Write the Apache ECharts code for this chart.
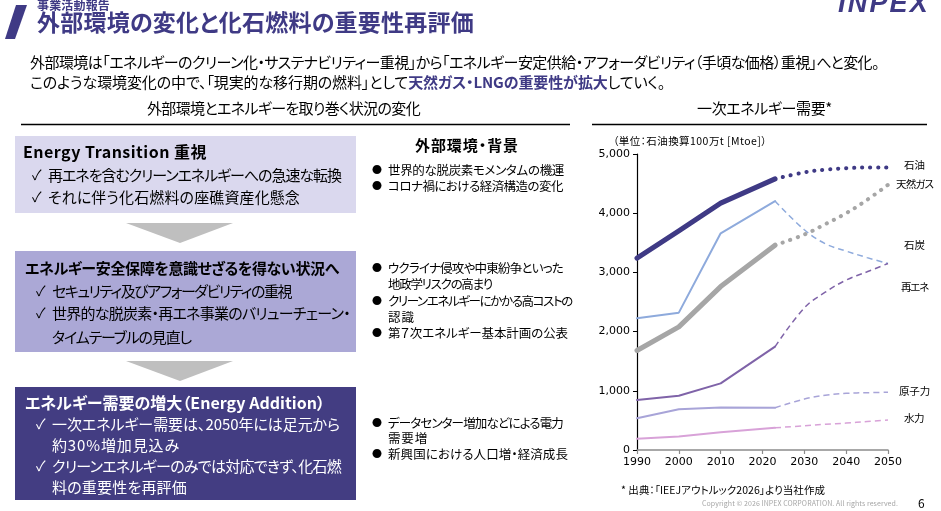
<!DOCTYPE html>
<html><head><meta charset="utf-8">
<script src="https://cdn.jsdelivr.net/npm/echarts@6/dist/echarts.min.js"></script>
<style>
html,body{margin:0;padding:0;background:#fff;}
body{width:941px;height:511px;position:relative;overflow:hidden;font-family:"Noto Sans CJK JP","Noto Sans",sans-serif;color:#000;}
#chart{position:absolute;left:0;top:0;width:941px;height:511px;}
.t{position:absolute;white-space:nowrap;font-feature-settings:"palt";}
.blk{position:absolute;}
</style></head><body>
<div id="chart"></div>
<svg class="blk" style="left:0;top:0" width="941" height="511">
  <polygon points="16,5 27,5 15,39 5,39" fill="#3f3a85"/>
  <line x1="21" y1="124.5" x2="570" y2="124.5" stroke="#000" stroke-width="1.5"/>
  <line x1="592" y1="124.5" x2="927" y2="124.5" stroke="#000" stroke-width="1.5"/>
  <rect x="15" y="136" width="341" height="77" fill="#dad8ee"/>
  <polygon points="126,223 233,223 180,243" fill="#bfbfbf"/>
  <rect x="15" y="251" width="341" height="101" fill="#aba8d6"/>
  <polygon points="126,361 233,361 180,381" fill="#bfbfbf"/>
  <rect x="15" y="387" width="341" height="113" fill="#433d82"/>
</svg>
<div id="texts"></div>
<script>
// ---- chart data ----
const xTicks = [1990, 2000, 2010, 2020, 2030, 2040, 2050];
const yTicks = [0, 1000, 2000, 3000, 4000, 5000];
const actualYears = [1990, 2000, 2010, 2023];
const outlookYears = [2023, 2030, 2035, 2040, 2045, 2050];
const oilActual = [3240, 3700, 4170, 4580];
const oilOutlook = [4580, 4690, 4735, 4760, 4772, 4770];
const gasActual = [1680, 2080, 2760, 3460];
const gasOutlook = [3460, 3640, 3815, 4000, 4225, 4480];
const coalActual = [2225, 2320, 3660, 4205];
const coalOutlook = [4205, 3720, 3485, 3360, 3250, 3150];
const renewActual = [845, 915, 1125, 1745];
const renewOutlook = [1745, 2400, 2665, 2870, 3010, 3150];
const nuclearActual = [535, 690, 720, 715];
const nuclearOutlook = [715, 860, 925, 957, 968, 975];
const hydroActual = [190, 230, 300, 375];
const hydroOutlook = [375, 410, 435, 455, 480, 505];
const seriesNames = ['石油', '天然ガス', '石炭', '再エネ', '原子力', '水力'];

// ---- layout text (not data) ----
const P = '#3f3a85';
const texts = [
  {x:37,y:6,w:73,s:12,b:1,c:P,t:'事業活動報告'},
  {x:37,y:23,w:437,s:23,b:1,c:P,t:'外部環境の変化と化石燃料の重要性再評価'},
  {x:30,y:62,w:849,s:15,t:'外部環境は「エネルギーのクリーン化・サステナビリティー重視」から「エネルギー安定供給・アフォーダビリティ（手頃な価格）重視」へと変化。'},
  {x:30,y:82,w:635,s:15,t:'このような環境変化の中で、「現実的な移行期の燃料」として<b style="color:'+P+'">天然ガス・LNGの重要性が拡大</b>していく。',n:49},
  {x:147,y:108,w:273,s:15,t:'外部環境とエネルギーを取り巻く状況の変化'},
  {x:697,y:108,w:135,s:15,t:'一次エネルギー需要*'},
  {x:23,y:152,w:184,s:16,b:1,t:'Energy Transition 重視'},
  {x:32,y:175,s:14,t:'✓'},{x:48,y:175,w:293,s:15,t:'再エネを含むクリーンエネルギーへの急速な転換'},
  {x:32,y:197,s:14,t:'✓'},{x:48,y:197,w:252,s:15,t:'それに伴う化石燃料の座礁資産化懸念'},
  {x:25,y:268,w:314,s:15,b:1,t:'エネルギー安全保障を意識せざるを得ない状況へ'},
  {x:36,y:291,s:14,t:'✓'},{x:52,y:291,w:239,s:15,t:'セキュリティ及びアフォーダビリティの重視'},
  {x:36,y:313,s:14,t:'✓'},{x:52,y:313,w:298,s:15,t:'世界的な脱炭素・再エネ事業のバリューチェーン・'},
  {x:52,y:337,w:139,s:15,t:'タイムテーブルの見直し'},
  {x:25,y:403,w:300,s:16,b:1,c:'#fff',t:'エネルギー需要の増大（Energy Addition）'},
  {x:36,y:424,s:14,c:'#fff',t:'✓'},{x:52,y:424,w:288,s:15,c:'#fff',t:'一次エネルギー需要は、2050年には足元から'},
  {x:52,y:445,w:128,s:15,c:'#fff',t:'約30%増加見込み'},
  {x:36,y:466,s:14,c:'#fff',t:'✓'},{x:52,y:466,w:289,s:15,c:'#fff',t:'クリーンエネルギーのみでは対応できず、化石燃'},
  {x:52,y:487,w:135,s:15,c:'#fff',t:'料の重要性を再評価'},
  {x:415,y:145,w:104,s:15,b:1,t:'外部環境・背景'},
  {x:372,y:170,s:10,t:'●'},{x:388,y:170,w:176,s:12.5,t:'世界的な脱炭素モメンタムの機運'},
  {x:372,y:186,s:10,t:'●'},{x:388,y:186,w:175,s:12.5,t:'コロナ禍における経済構造の変化'},
  {x:372,y:268,s:10,t:'●'},{x:388,y:268,w:175,s:12.5,t:'ウクライナ侵攻や中東紛争といった'},
  {x:388,y:284,w:104,s:12.5,t:'地政学リスクの高まり'},
  {x:372,y:301,s:10,t:'●'},{x:388,y:301,w:184,s:12.5,t:'クリーンエネルギーにかかる高コストの'},
  {x:388,y:317,w:27,s:12.5,t:'認識'},
  {x:372,y:333,s:10,t:'●'},{x:388,y:333,w:180,s:12.5,t:'第７次エネルギー基本計画の公表'},
  {x:372,y:423,s:10,t:'●'},{x:388,y:423,w:175,s:12.5,t:'データセンター増加などによる電力'},
  {x:388,y:438,w:40,s:12.5,t:'需要増'},
  {x:372,y:454,s:10,t:'●'},{x:388,y:454,w:180,s:12.5,t:'新興国における人口増・経済成長'},
  {x:613,y:142,w:154,s:10.5,t:'（単位：石油換算100万t [Mtoe]）'},
  {x:621,y:491,w:204,s:10.5,t:'* 出典：「IEEJアウトルック2026」より当社作成'},
  {x:702,y:504,w:196,s:7,c:'#a6a6a6',t:'Copyright © 2026 INPEX CORPORATION. All rights reserved.'},
  {x:918,y:504,s:12,t:'6'},
  {x:904,y:166,w:21,s:10.5,t:seriesNames[0]},
  {x:896,y:185,w:37,s:10.5,t:seriesNames[1]},
  {x:904,y:246,w:21,s:10.5,t:seriesNames[2]},
  {x:901,y:288,w:27,s:10.5,t:seriesNames[3]},
  {x:899,y:392,w:31,s:10.5,t:seriesNames[4]},
  {x:904,y:419,w:20,s:10.5,t:seriesNames[5]}
];
const host = document.getElementById('texts');
const els = [];
texts.forEach(o => {
  const d = document.createElement('div');
  d.className = 't';
  const h = Math.round(o.s * 1.5);
  d.style.left = o.x + 'px';
  d.style.top = (o.y - h / 2 - o.s * 0.05) + 'px';
  d.style.height = h + 'px';
  d.style.lineHeight = h + 'px';
  d.style.fontSize = o.s + 'px';
  if (o.b) d.style.fontWeight = 'bold';
  if (o.c) d.style.color = o.c;
  d.innerHTML = o.t;
  host.appendChild(d);
  els.push([d, o]);
});
const logo = document.createElement('div');
logo.className = 't';
logo.style.cssText = 'left:838px;top:-10px;font-family:"Liberation Sans",Arial,sans-serif;font-weight:bold;font-style:italic;font-size:27px;line-height:27px;color:'+P+';';
logo.textContent = 'INPEX';
host.appendChild(logo);
els.push([logo, {w:92, t:'INPEX'}]);

function fit() {
  els.forEach(([d, o]) => {
    if (!o.w) return;
    d.style.letterSpacing = '0px';
    const nat = d.getBoundingClientRect().width;
    const n = o.n || d.textContent.length;
    d.style.letterSpacing = ((o.w - nat) / n) + 'px';
  });
}

const chart = echarts.init(document.getElementById('chart'), null, {renderer: 'canvas'});
const pair = (xs, ys) => xs.map((x, i) => [x, ys[i]]);
function actual(name, ys, color, width) {
  return {name, type: 'line', data: pair(actualYears, ys), symbol: 'none', silent: true,
    lineStyle: {color, width, cap: 'round', join: 'round'}, z: 3};
}
function dotted(name, ys, color) {
  return {name, type: 'line', data: pair(outlookYears, ys), symbol: 'none', smooth: 0.4, silent: true,
    lineStyle: {color, width: 4, type: [0.2, 7.8], cap: 'round'}, z: 2};
}
function dashed(name, ys, color) {
  return {name, type: 'line', data: pair(outlookYears, ys), symbol: 'none', smooth: 0.4, silent: true,
    lineStyle: {color, width: 1.5, type: [6, 4]}, z: 2};
}
const C = {oil:'#3f3a85', gas:'#a6a6a6', coal:'#8eaadc', renew:'#7f63a8', nuc:'#a8a4d8', hydro:'#d8a2d8'};
chart.setOption({
  animation: false,
  grid: {left: 637, top: 154, width: 251, height: 296, containLabel: false},
  xAxis: {type: 'value', min: xTicks[0], max: xTicks[xTicks.length-1], interval: 10,
    axisLine: {show: true, lineStyle: {color: '#8c8c8c', width: 1.5}},
    axisTick: {show: true, length: 4, lineStyle: {color: '#8c8c8c', width: 1.2}},
    splitLine: {show: false},
    axisLabel: {color: '#000', fontSize: 11, fontFamily: 'DejaVu Sans', margin: 7, formatter: v => String(v)}},
  yAxis: {type: 'value', min: yTicks[0], max: yTicks[yTicks.length-1], interval: 1000,
    axisLine: {show: true, lineStyle: {color: '#000', width: 1.2}},
    axisTick: {show: true, length: 4, lineStyle: {color: '#000'}},
    splitLine: {show: false},
    axisLabel: {color: '#000', fontSize: 11, fontFamily: 'DejaVu Sans', margin: 7,
      formatter: v => v.toLocaleString('en-US')}},
  series: [
    dashed(seriesNames[2], coalOutlook, C.coal),
    dashed(seriesNames[3], renewOutlook, C.renew),
    dashed(seriesNames[4], nuclearOutlook, C.nuc),
    dashed(seriesNames[5], hydroOutlook, C.hydro),
    dotted(seriesNames[1], gasOutlook, C.gas),
    dotted(seriesNames[0], oilOutlook, C.oil),
    actual(seriesNames[5], hydroActual, C.hydro, 2),
    actual(seriesNames[4], nuclearActual, C.nuc, 2),
    actual(seriesNames[3], renewActual, C.renew, 2),
    actual(seriesNames[2], coalActual, C.coal, 2),
    actual(seriesNames[1], gasActual, C.gas, 5),
    actual(seriesNames[0], oilActual, C.oil, 5)
  ]
});
fit();
if (document.fonts && document.fonts.ready) document.fonts.ready.then(fit);
</script>
</body></html>
